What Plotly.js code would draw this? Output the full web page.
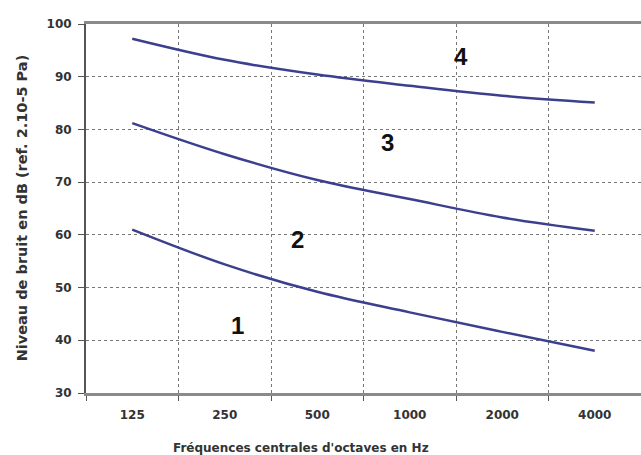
<!DOCTYPE html>
<html>
<head>
<meta charset="utf-8">
<script src="https://cdn.plot.ly/plotly-3.0.1.min.js"></script>
<style>html,body{margin:0;padding:0;background:#fff;}#chart{width:641px;height:455px;}</style>
</head>
<body>
<div id="chart"></div>
<script>
const frequencies = ["125", "250", "500", "1000", "2000", "4000"];
const curveA = [61.0, 54.4, 49.2, 45.3, 41.6, 38.0];
const curveB = [81.2, 75.3, 70.4, 66.8, 63.3, 60.8];
const curveC = [97.2, 93.2, 90.4, 88.3, 86.4, 85.1];
const zoneLabels = ["1", "2", "3", "4"];
const yTicks = [30, 40, 50, 60, 70, 80, 90, 100];
const xTitle = "Fréquences centrales d'octaves en Hz";
const yTitle = "Niveau de bruit en dB (ref. 2.10-5 Pa)";

const lineStyle = {color: "#3c3f8e", width: 2.5, shape: "spline", smoothing: 1};
const traces = [curveA, curveB, curveC].map(v => ({
  x: frequencies, y: v, type: "scatter", mode: "lines", line: lineStyle, hoverinfo: "skip"
}));

const zonePos = [[1.14, 42.9], [1.79, 59.2], [2.76, 77.6], [3.55, 93.9]];
const annotations = zoneLabels.map((t, i) => ({
  x: zonePos[i][0], y: zonePos[i][1], xref: "x", yref: "y", text: t, showarrow: false,
  font: {family: "Liberation Sans, Arial, sans-serif", size: 24, color: "#111", weight: "bold"}
}));

const txtFont = "DejaVu Sans, Verdana, sans-serif";
annotations.push({
  text: xTitle, xref: "paper", yref: "paper", x: 0.387, y: -0.149,
  xanchor: "center", yanchor: "middle", showarrow: false,
  font: {family: txtFont, size: 12, color: "#333", weight: "bold"}
});
annotations.push({
  text: yTitle, xref: "paper", yref: "paper", x: -0.115, y: 0.501, textangle: -90,
  xanchor: "center", yanchor: "middle", showarrow: false,
  font: {family: txtFont, size: 14.5, color: "#333", weight: "bold"}
});

const layout = {
  width: 641, height: 455,
  margin: {l: 86, r: 0, t: 24, b: 62},
  paper_bgcolor: "#fff", plot_bgcolor: "#fff",
  showlegend: false,
  font: {family: txtFont, color: "#333"},
  xaxis: {
    type: "category", range: [-0.5, 5.5], tickson: "boundaries",
    showgrid: true, gridcolor: "#777", griddash: "dot", gridwidth: 1,
    showline: true, linecolor: "#8a8a8a", linewidth: 3, mirror: true,
    ticks: "outside", ticklen: 5, tickcolor: "#555",
    ticklabelstandoff: 9,
    tickfont: {family: txtFont, size: 12, color: "#333", weight: "bold"}
  },
  yaxis: {
    range: [30, 100], tickvals: yTicks, ticktext: yTicks.map(String),
    showgrid: true, gridcolor: "#777", griddash: "dot", gridwidth: 1,
    showline: true, linecolor: "#555", linewidth: 2,
    ticks: "outside", ticklen: 6, tickcolor: "#555",
    ticklabelstandoff: 4,
    tickfont: {family: txtFont, size: 12, color: "#333", weight: "bold"},
    zeroline: false
  },
  annotations: annotations
};

Plotly.newPlot("chart", traces, layout, {displayModeBar: false, staticPlot: true});
</script>
</body>
</html>
